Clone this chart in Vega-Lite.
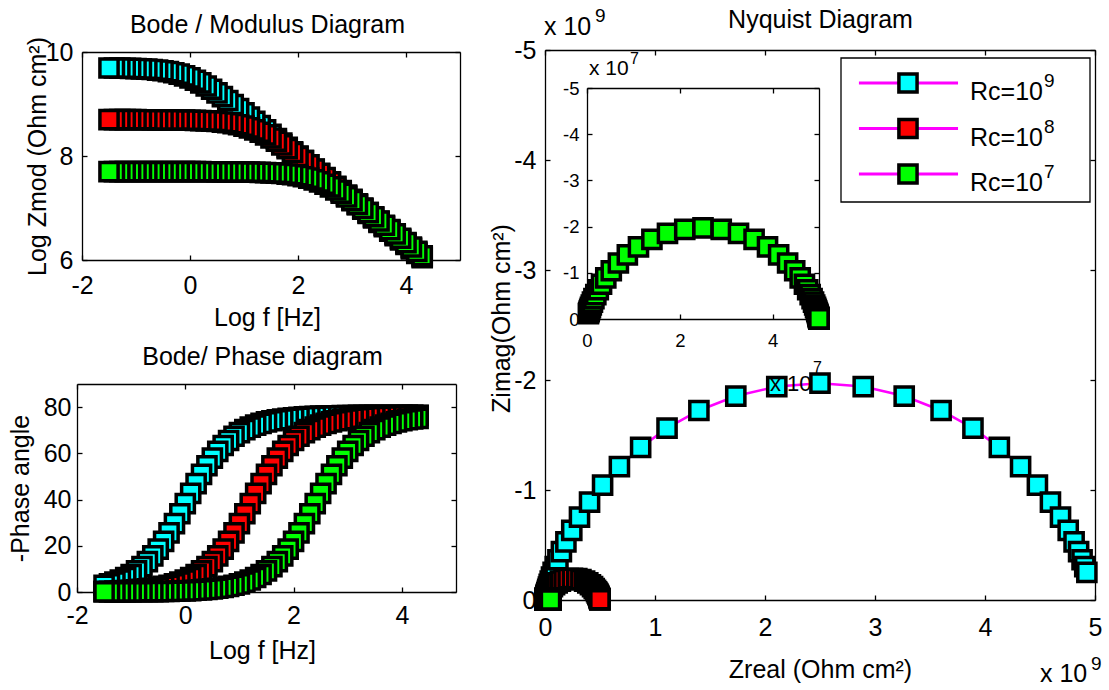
{
  "$schema": "https://vega.github.io/schema/vega-lite/v6.json",
  "width": 1109,
  "height": 690,
  "autosize": {"type": "none"},
  "padding": 0,
  "background": "white",
  "config": {
    "view": {"stroke": null},
    "font": "Liberation Sans",
    "text": {"font": "Liberation Sans", "color": "black"},
    "axis": {
      "domainColor": "black", "domainWidth": 1.3,
      "tickColor": "black", "tickWidth": 1.3, "tickSize": -5,
      "labelFont": "Liberation Sans", "labelFontSize": 25, "labelColor": "black",
      "titleFont": "Liberation Sans", "titleFontSize": 25, "titleFontWeight": "normal", "titleColor": "black",
      "grid": false, "labelOverlap": false, "labelFlush": false, "labelBound": false
    }
  },
  "datasets": {
    "legend": [
      {"series": "Rc=1e9", "base": "Rc=10", "exp": "9"},
      {"series": "Rc=1e8", "base": "Rc=10", "exp": "8"},
      {"series": "Rc=1e7", "base": "Rc=10", "exp": "7"}
    ],
    "eis": [
      {"series":"Rc=1e9","logf":4.3,"logz":6.044,"phase":76.49,"zreal":2.2e5,"zimag":-1.1e6},
      {"series":"Rc=1e9","logf":4.2,"logz":6.129,"phase":76.48,"zreal":2.7e5,"zimag":-1.35e6},
      {"series":"Rc=1e9","logf":4.1,"logz":6.214,"phase":76.48,"zreal":3.3e5,"zimag":-1.6e6},
      {"series":"Rc=1e9","logf":4.0,"logz":6.299,"phase":76.48,"zreal":4.0e5,"zimag":-2.0e6},
      {"series":"Rc=1e9","logf":3.9,"logz":6.384,"phase":76.47,"zreal":5.0e5,"zimag":-2.4e6},
      {"series":"Rc=1e9","logf":3.8,"logz":6.469,"phase":76.47,"zreal":6.0e5,"zimag":-2.9e6},
      {"series":"Rc=1e9","logf":3.7,"logz":6.554,"phase":76.46,"zreal":7.0e5,"zimag":-3.55e6},
      {"series":"Rc=1e9","logf":3.6,"logz":6.639,"phase":76.45,"zreal":9.0e5,"zimag":-4.35e6},
      {"series":"Rc=1e9","logf":3.5,"logz":6.724,"phase":76.44,"zreal":1.1e6,"zimag":-5.3e6},
      {"series":"Rc=1e9","logf":3.4,"logz":6.809,"phase":76.43,"zreal":1.3e6,"zimag":-6.4e6},
      {"series":"Rc=1e9","logf":3.3,"logz":6.894,"phase":76.41,"zreal":1.6e6,"zimag":-7.8e6},
      {"series":"Rc=1e9","logf":3.2,"logz":6.979,"phase":76.39,"zreal":2.0e6,"zimag":-9.5e6},
      {"series":"Rc=1e9","logf":3.1,"logz":7.064,"phase":76.37,"zreal":2.5e6,"zimag":-1.15e7},
      {"series":"Rc=1e9","logf":3.0,"logz":7.149,"phase":76.34,"zreal":3.5e6,"zimag":-1.35e7},
      {"series":"Rc=1e9","logf":2.9,"logz":7.234,"phase":76.30,"zreal":4.0e6,"zimag":-1.65e7},
      {"series":"Rc=1e9","logf":2.8,"logz":7.319,"phase":76.26,"zreal":5.0e6,"zimag":-2.0e7},
      {"series":"Rc=1e9","logf":2.7,"logz":7.404,"phase":76.21,"zreal":6.0e6,"zimag":-2.45e7},
      {"series":"Rc=1e9","logf":2.6,"logz":7.488,"phase":76.15,"zreal":7.5e6,"zimag":-3.0e7},
      {"series":"Rc=1e9","logf":2.5,"logz":7.573,"phase":76.08,"zreal":9.0e6,"zimag":-3.65e7},
      {"series":"Rc=1e9","logf":2.4,"logz":7.658,"phase":75.99,"zreal":1.1e7,"zimag":-4.4e7},
      {"series":"Rc=1e9","logf":2.3,"logz":7.743,"phase":75.89,"zreal":1.35e7,"zimag":-5.35e7},
      {"series":"Rc=1e9","logf":2.2,"logz":7.828,"phase":75.75,"zreal":1.65e7,"zimag":-6.5e7},
      {"series":"Rc=1e9","logf":2.1,"logz":7.912,"phase":75.59,"zreal":2.05e7,"zimag":-7.9e7},
      {"series":"Rc=1e9","logf":2.0,"logz":7.997,"phase":75.40,"zreal":2.5e7,"zimag":-9.6e7},
      {"series":"Rc=1e9","logf":1.9,"logz":8.081,"phase":75.16,"zreal":3.1e7,"zimag":-1.165e8},
      {"series":"Rc=1e9","logf":1.8,"logz":8.166,"phase":74.87,"zreal":3.8e7,"zimag":-1.415e8},
      {"series":"Rc=1e9","logf":1.7,"logz":8.250,"phase":74.52,"zreal":4.75e7,"zimag":-1.715e8},
      {"series":"Rc=1e9","logf":1.6,"logz":8.334,"phase":74.09,"zreal":5.9e7,"zimag":-2.08e8},
      {"series":"Rc=1e9","logf":1.5,"logz":8.418,"phase":73.58,"zreal":7.4e7,"zimag":-2.51e8},
      {"series":"Rc=1e9","logf":1.4,"logz":8.502,"phase":72.96,"zreal":9.3e7,"zimag":-3.035e8},
      {"series":"Rc=1e9","logf":1.3,"logz":8.585,"phase":72.22,"zreal":1.175e8,"zimag":-3.66e8},
      {"series":"Rc=1e9","logf":1.2,"logz":8.668,"phase":71.31,"zreal":1.49e8,"zimag":-4.405e8},
      {"series":"Rc=1e9","logf":1.1,"logz":8.750,"phase":70.23,"zreal":1.9e8,"zimag":-5.285e8},
      {"series":"Rc=1e9","logf":1.0,"logz":8.831,"phase":68.93,"zreal":2.435e8,"zimag":-6.325e8},
      {"series":"Rc=1e9","logf":0.9,"logz":8.911,"phase":67.38,"zreal":3.135e8,"zimag":-7.53e8},
      {"series":"Rc=1e9","logf":0.8,"logz":8.990,"phase":65.54,"zreal":4.05e8,"zimag":-8.9e8},
      {"series":"Rc=1e9","logf":0.7,"logz":9.068,"phase":63.38,"zreal":5.235e8,"zimag":-1.044e9},
      {"series":"Rc=1e9","logf":0.6,"logz":9.142,"phase":60.85,"zreal":6.765e8,"zimag":-1.212e9},
      {"series":"Rc=1e9","logf":0.5,"logz":9.214,"phase":57.94,"zreal":8.695e8,"zimag":-1.3875e9},
      {"series":"Rc=1e9","logf":0.4,"logz":9.283,"phase":54.62,"zreal":1.1095e9,"zimag":-1.5625e9},
      {"series":"Rc=1e9","logf":0.3,"logz":9.346,"phase":50.93,"zreal":1.399e9,"zimag":-1.723e9},
      {"series":"Rc=1e9","logf":0.2,"logz":9.405,"phase":46.92,"zreal":1.7345e9,"zimag":-1.854e9},
      {"series":"Rc=1e9","logf":0.1,"logz":9.457,"phase":42.65,"zreal":2.107e9,"zimag":-1.9405e9},
      {"series":"Rc=1e9","logf":0.0,"logz":9.503,"phase":38.25,"zreal":2.5e9,"zimag":-1.971e9},
      {"series":"Rc=1e9","logf":-0.1,"logz":9.542,"phase":33.85,"zreal":2.893e9,"zimag":-1.9405e9},
      {"series":"Rc=1e9","logf":-0.2,"logz":9.575,"phase":29.59,"zreal":3.2655e9,"zimag":-1.854e9},
      {"series":"Rc=1e9","logf":-0.3,"logz":9.601,"phase":25.57,"zreal":3.601e9,"zimag":-1.723e9},
      {"series":"Rc=1e9","logf":-0.4,"logz":9.623,"phase":21.88,"zreal":3.8905e9,"zimag":-1.5625e9},
      {"series":"Rc=1e9","logf":-0.5,"logz":9.639,"phase":18.57,"zreal":4.1305e9,"zimag":-1.3875e9},
      {"series":"Rc=1e9","logf":-0.6,"logz":9.652,"phase":15.66,"zreal":4.3235e9,"zimag":-1.212e9},
      {"series":"Rc=1e9","logf":-0.7,"logz":9.663,"phase":13.13,"zreal":4.4765e9,"zimag":-1.044e9},
      {"series":"Rc=1e9","logf":-0.8,"logz":9.670,"phase":10.96,"zreal":4.595e9,"zimag":-8.9e8},
      {"series":"Rc=1e9","logf":-0.9,"logz":9.676,"phase":9.13,"zreal":4.6865e9,"zimag":-7.53e8},
      {"series":"Rc=1e9","logf":-1.0,"logz":9.681,"phase":7.58,"zreal":4.7565e9,"zimag":-6.325e8},
      {"series":"Rc=1e9","logf":-1.1,"logz":9.685,"phase":6.27,"zreal":4.81e9,"zimag":-5.285e8},
      {"series":"Rc=1e9","logf":-1.2,"logz":9.688,"phase":5.19,"zreal":4.851e9,"zimag":-4.405e8},
      {"series":"Rc=1e9","logf":-1.3,"logz":9.690,"phase":4.29,"zreal":4.8825e9,"zimag":-3.66e8},
      {"series":"Rc=1e9","logf":-1.4,"logz":9.692,"phase":3.54,"zreal":4.907e9,"zimag":-3.035e8},
      {"series":"Rc=1e9","logf":-1.5,"logz":9.693,"phase":2.92,"zreal":4.926e9,"zimag":-2.51e8},

      {"series":"Rc=1e8","logf":4.3,"logz":6.064,"phase":76.37,"zreal":2.5e5,"zimag":-1.15e6},
      {"series":"Rc=1e8","logf":4.2,"logz":6.149,"phase":76.34,"zreal":3.5e5,"zimag":-1.35e6},
      {"series":"Rc=1e8","logf":4.1,"logz":6.234,"phase":76.30,"zreal":4.0e5,"zimag":-1.65e6},
      {"series":"Rc=1e8","logf":4.0,"logz":6.319,"phase":76.26,"zreal":5.0e5,"zimag":-2.0e6},
      {"series":"Rc=1e8","logf":3.9,"logz":6.404,"phase":76.21,"zreal":6.0e5,"zimag":-2.45e6},
      {"series":"Rc=1e8","logf":3.8,"logz":6.488,"phase":76.15,"zreal":7.5e5,"zimag":-3.0e6},
      {"series":"Rc=1e8","logf":3.7,"logz":6.573,"phase":76.08,"zreal":9.0e5,"zimag":-3.65e6},
      {"series":"Rc=1e8","logf":3.6,"logz":6.658,"phase":75.99,"zreal":1.1e6,"zimag":-4.4e6},
      {"series":"Rc=1e8","logf":3.5,"logz":6.743,"phase":75.89,"zreal":1.35e6,"zimag":-5.35e6},
      {"series":"Rc=1e8","logf":3.4,"logz":6.828,"phase":75.75,"zreal":1.65e6,"zimag":-6.5e6},
      {"series":"Rc=1e8","logf":3.3,"logz":6.912,"phase":75.59,"zreal":2.05e6,"zimag":-7.9e6},
      {"series":"Rc=1e8","logf":3.2,"logz":6.997,"phase":75.40,"zreal":2.5e6,"zimag":-9.6e6},
      {"series":"Rc=1e8","logf":3.1,"logz":7.081,"phase":75.16,"zreal":3.1e6,"zimag":-1.165e7},
      {"series":"Rc=1e8","logf":3.0,"logz":7.166,"phase":74.87,"zreal":3.8e6,"zimag":-1.415e7},
      {"series":"Rc=1e8","logf":2.9,"logz":7.250,"phase":74.52,"zreal":4.75e6,"zimag":-1.715e7},
      {"series":"Rc=1e8","logf":2.8,"logz":7.334,"phase":74.09,"zreal":5.9e6,"zimag":-2.08e7},
      {"series":"Rc=1e8","logf":2.7,"logz":7.418,"phase":73.58,"zreal":7.4e6,"zimag":-2.51e7},
      {"series":"Rc=1e8","logf":2.6,"logz":7.502,"phase":72.96,"zreal":9.3e6,"zimag":-3.035e7},
      {"series":"Rc=1e8","logf":2.5,"logz":7.585,"phase":72.22,"zreal":1.175e7,"zimag":-3.66e7},
      {"series":"Rc=1e8","logf":2.4,"logz":7.668,"phase":71.31,"zreal":1.49e7,"zimag":-4.405e7},
      {"series":"Rc=1e8","logf":2.3,"logz":7.750,"phase":70.23,"zreal":1.9e7,"zimag":-5.285e7},
      {"series":"Rc=1e8","logf":2.2,"logz":7.831,"phase":68.93,"zreal":2.435e7,"zimag":-6.325e7},
      {"series":"Rc=1e8","logf":2.1,"logz":7.911,"phase":67.38,"zreal":3.135e7,"zimag":-7.53e7},
      {"series":"Rc=1e8","logf":2.0,"logz":7.990,"phase":65.54,"zreal":4.05e7,"zimag":-8.9e7},
      {"series":"Rc=1e8","logf":1.9,"logz":8.068,"phase":63.38,"zreal":5.235e7,"zimag":-1.044e8},
      {"series":"Rc=1e8","logf":1.8,"logz":8.142,"phase":60.85,"zreal":6.765e7,"zimag":-1.212e8},
      {"series":"Rc=1e8","logf":1.7,"logz":8.214,"phase":57.94,"zreal":8.695e7,"zimag":-1.3875e8},
      {"series":"Rc=1e8","logf":1.6,"logz":8.283,"phase":54.62,"zreal":1.1095e8,"zimag":-1.5625e8},
      {"series":"Rc=1e8","logf":1.5,"logz":8.346,"phase":50.93,"zreal":1.399e8,"zimag":-1.723e8},
      {"series":"Rc=1e8","logf":1.4,"logz":8.405,"phase":46.92,"zreal":1.7345e8,"zimag":-1.854e8},
      {"series":"Rc=1e8","logf":1.3,"logz":8.457,"phase":42.65,"zreal":2.107e8,"zimag":-1.9405e8},
      {"series":"Rc=1e8","logf":1.2,"logz":8.503,"phase":38.25,"zreal":2.5e8,"zimag":-1.971e8},
      {"series":"Rc=1e8","logf":1.1,"logz":8.542,"phase":33.85,"zreal":2.893e8,"zimag":-1.9405e8},
      {"series":"Rc=1e8","logf":1.0,"logz":8.575,"phase":29.59,"zreal":3.2655e8,"zimag":-1.854e8},
      {"series":"Rc=1e8","logf":0.9,"logz":8.601,"phase":25.57,"zreal":3.601e8,"zimag":-1.723e8},
      {"series":"Rc=1e8","logf":0.8,"logz":8.623,"phase":21.88,"zreal":3.8905e8,"zimag":-1.5625e8},
      {"series":"Rc=1e8","logf":0.7,"logz":8.639,"phase":18.57,"zreal":4.1305e8,"zimag":-1.3875e8},
      {"series":"Rc=1e8","logf":0.6,"logz":8.652,"phase":15.66,"zreal":4.3235e8,"zimag":-1.212e8},
      {"series":"Rc=1e8","logf":0.5,"logz":8.663,"phase":13.13,"zreal":4.4765e8,"zimag":-1.044e8},
      {"series":"Rc=1e8","logf":0.4,"logz":8.670,"phase":10.96,"zreal":4.595e8,"zimag":-8.9e7},
      {"series":"Rc=1e8","logf":0.3,"logz":8.676,"phase":9.13,"zreal":4.6865e8,"zimag":-7.53e7},
      {"series":"Rc=1e8","logf":0.2,"logz":8.681,"phase":7.58,"zreal":4.7565e8,"zimag":-6.325e7},
      {"series":"Rc=1e8","logf":0.1,"logz":8.685,"phase":6.27,"zreal":4.81e8,"zimag":-5.285e7},
      {"series":"Rc=1e8","logf":0.0,"logz":8.688,"phase":5.19,"zreal":4.851e8,"zimag":-4.405e7},
      {"series":"Rc=1e8","logf":-0.1,"logz":8.690,"phase":4.29,"zreal":4.8825e8,"zimag":-3.66e7},
      {"series":"Rc=1e8","logf":-0.2,"logz":8.692,"phase":3.54,"zreal":4.907e8,"zimag":-3.035e7},
      {"series":"Rc=1e8","logf":-0.3,"logz":8.693,"phase":2.92,"zreal":4.926e8,"zimag":-2.51e7},
      {"series":"Rc=1e8","logf":-0.4,"logz":8.694,"phase":2.41,"zreal":4.941e8,"zimag":-2.08e7},
      {"series":"Rc=1e8","logf":-0.5,"logz":8.695,"phase":1.98,"zreal":4.9525e8,"zimag":-1.715e7},
      {"series":"Rc=1e8","logf":-0.6,"logz":8.696,"phase":1.63,"zreal":4.962e8,"zimag":-1.415e7},
      {"series":"Rc=1e8","logf":-0.7,"logz":8.696,"phase":1.34,"zreal":4.969e8,"zimag":-1.165e7},
      {"series":"Rc=1e8","logf":-0.8,"logz":8.697,"phase":1.11,"zreal":4.975e8,"zimag":-9.6e6},
      {"series":"Rc=1e8","logf":-0.9,"logz":8.697,"phase":0.91,"zreal":4.9795e8,"zimag":-7.9e6},
      {"series":"Rc=1e8","logf":-1.0,"logz":8.698,"phase":0.75,"zreal":4.9835e8,"zimag":-6.5e6},
      {"series":"Rc=1e8","logf":-1.1,"logz":8.698,"phase":0.62,"zreal":4.9865e8,"zimag":-5.35e6},
      {"series":"Rc=1e8","logf":-1.2,"logz":8.698,"phase":0.51,"zreal":4.989e8,"zimag":-4.4e6},
      {"series":"Rc=1e8","logf":-1.3,"logz":8.698,"phase":0.42,"zreal":4.991e8,"zimag":-3.65e6},
      {"series":"Rc=1e8","logf":-1.4,"logz":8.698,"phase":0.34,"zreal":4.9925e8,"zimag":-3.0e6},
      {"series":"Rc=1e8","logf":-1.5,"logz":8.699,"phase":0.28,"zreal":4.994e8,"zimag":-2.45e6},

      {"series":"Rc=1e7","logf":4.3,"logz":6.081,"phase":75.16,"zreal":3.1e5,"zimag":-1.165e6},
      {"series":"Rc=1e7","logf":4.2,"logz":6.166,"phase":74.87,"zreal":3.8e5,"zimag":-1.415e6},
      {"series":"Rc=1e7","logf":4.1,"logz":6.250,"phase":74.52,"zreal":4.75e5,"zimag":-1.715e6},
      {"series":"Rc=1e7","logf":4.0,"logz":6.334,"phase":74.09,"zreal":5.9e5,"zimag":-2.08e6},
      {"series":"Rc=1e7","logf":3.9,"logz":6.418,"phase":73.58,"zreal":7.4e5,"zimag":-2.51e6},
      {"series":"Rc=1e7","logf":3.8,"logz":6.502,"phase":72.96,"zreal":9.3e5,"zimag":-3.035e6},
      {"series":"Rc=1e7","logf":3.7,"logz":6.585,"phase":72.22,"zreal":1.175e6,"zimag":-3.66e6},
      {"series":"Rc=1e7","logf":3.6,"logz":6.668,"phase":71.31,"zreal":1.49e6,"zimag":-4.405e6},
      {"series":"Rc=1e7","logf":3.5,"logz":6.750,"phase":70.23,"zreal":1.9e6,"zimag":-5.285e6},
      {"series":"Rc=1e7","logf":3.4,"logz":6.831,"phase":68.93,"zreal":2.435e6,"zimag":-6.325e6},
      {"series":"Rc=1e7","logf":3.3,"logz":6.911,"phase":67.38,"zreal":3.135e6,"zimag":-7.53e6},
      {"series":"Rc=1e7","logf":3.2,"logz":6.990,"phase":65.54,"zreal":4.05e6,"zimag":-8.9e6},
      {"series":"Rc=1e7","logf":3.1,"logz":7.068,"phase":63.38,"zreal":5.235e6,"zimag":-1.044e7},
      {"series":"Rc=1e7","logf":3.0,"logz":7.142,"phase":60.85,"zreal":6.765e6,"zimag":-1.212e7},
      {"series":"Rc=1e7","logf":2.9,"logz":7.214,"phase":57.94,"zreal":8.695e6,"zimag":-1.3875e7},
      {"series":"Rc=1e7","logf":2.8,"logz":7.283,"phase":54.62,"zreal":1.1095e7,"zimag":-1.5625e7},
      {"series":"Rc=1e7","logf":2.7,"logz":7.346,"phase":50.93,"zreal":1.399e7,"zimag":-1.723e7},
      {"series":"Rc=1e7","logf":2.6,"logz":7.405,"phase":46.92,"zreal":1.7345e7,"zimag":-1.854e7},
      {"series":"Rc=1e7","logf":2.5,"logz":7.457,"phase":42.65,"zreal":2.107e7,"zimag":-1.9405e7},
      {"series":"Rc=1e7","logf":2.4,"logz":7.503,"phase":38.25,"zreal":2.5e7,"zimag":-1.971e7},
      {"series":"Rc=1e7","logf":2.3,"logz":7.542,"phase":33.85,"zreal":2.893e7,"zimag":-1.9405e7},
      {"series":"Rc=1e7","logf":2.2,"logz":7.575,"phase":29.59,"zreal":3.2655e7,"zimag":-1.854e7},
      {"series":"Rc=1e7","logf":2.1,"logz":7.601,"phase":25.57,"zreal":3.601e7,"zimag":-1.723e7},
      {"series":"Rc=1e7","logf":2.0,"logz":7.623,"phase":21.88,"zreal":3.8905e7,"zimag":-1.5625e7},
      {"series":"Rc=1e7","logf":1.9,"logz":7.639,"phase":18.57,"zreal":4.1305e7,"zimag":-1.3875e7},
      {"series":"Rc=1e7","logf":1.8,"logz":7.652,"phase":15.66,"zreal":4.3235e7,"zimag":-1.212e7},
      {"series":"Rc=1e7","logf":1.7,"logz":7.663,"phase":13.13,"zreal":4.4765e7,"zimag":-1.044e7},
      {"series":"Rc=1e7","logf":1.6,"logz":7.670,"phase":10.96,"zreal":4.595e7,"zimag":-8.9e6},
      {"series":"Rc=1e7","logf":1.5,"logz":7.676,"phase":9.13,"zreal":4.6865e7,"zimag":-7.53e6},
      {"series":"Rc=1e7","logf":1.4,"logz":7.681,"phase":7.58,"zreal":4.7565e7,"zimag":-6.325e6},
      {"series":"Rc=1e7","logf":1.3,"logz":7.685,"phase":6.27,"zreal":4.81e7,"zimag":-5.285e6},
      {"series":"Rc=1e7","logf":1.2,"logz":7.688,"phase":5.19,"zreal":4.851e7,"zimag":-4.405e6},
      {"series":"Rc=1e7","logf":1.1,"logz":7.690,"phase":4.29,"zreal":4.8825e7,"zimag":-3.66e6},
      {"series":"Rc=1e7","logf":1.0,"logz":7.692,"phase":3.54,"zreal":4.907e7,"zimag":-3.035e6},
      {"series":"Rc=1e7","logf":0.9,"logz":7.693,"phase":2.92,"zreal":4.926e7,"zimag":-2.51e6},
      {"series":"Rc=1e7","logf":0.8,"logz":7.694,"phase":2.41,"zreal":4.941e7,"zimag":-2.08e6},
      {"series":"Rc=1e7","logf":0.7,"logz":7.695,"phase":1.98,"zreal":4.9525e7,"zimag":-1.715e6},
      {"series":"Rc=1e7","logf":0.6,"logz":7.696,"phase":1.63,"zreal":4.962e7,"zimag":-1.415e6},
      {"series":"Rc=1e7","logf":0.5,"logz":7.696,"phase":1.34,"zreal":4.969e7,"zimag":-1.165e6},
      {"series":"Rc=1e7","logf":0.4,"logz":7.697,"phase":1.11,"zreal":4.975e7,"zimag":-9.6e5},
      {"series":"Rc=1e7","logf":0.3,"logz":7.697,"phase":0.91,"zreal":4.9795e7,"zimag":-7.9e5},
      {"series":"Rc=1e7","logf":0.2,"logz":7.698,"phase":0.75,"zreal":4.9835e7,"zimag":-6.5e5},
      {"series":"Rc=1e7","logf":0.1,"logz":7.698,"phase":0.62,"zreal":4.9865e7,"zimag":-5.35e5},
      {"series":"Rc=1e7","logf":0.0,"logz":7.698,"phase":0.51,"zreal":4.989e7,"zimag":-4.4e5},
      {"series":"Rc=1e7","logf":-0.1,"logz":7.698,"phase":0.42,"zreal":4.991e7,"zimag":-3.65e5},
      {"series":"Rc=1e7","logf":-0.2,"logz":7.698,"phase":0.34,"zreal":4.9925e7,"zimag":-3.0e5},
      {"series":"Rc=1e7","logf":-0.3,"logz":7.699,"phase":0.28,"zreal":4.994e7,"zimag":-2.45e5},
      {"series":"Rc=1e7","logf":-0.4,"logz":7.699,"phase":0.23,"zreal":4.995e7,"zimag":-2.0e5},
      {"series":"Rc=1e7","logf":-0.5,"logz":7.699,"phase":0.19,"zreal":4.996e7,"zimag":-1.65e5},
      {"series":"Rc=1e7","logf":-0.6,"logz":7.699,"phase":0.16,"zreal":4.9965e7,"zimag":-1.35e5},
      {"series":"Rc=1e7","logf":-0.7,"logz":7.699,"phase":0.13,"zreal":4.9975e7,"zimag":-1.15e5},
      {"series":"Rc=1e7","logf":-0.8,"logz":7.699,"phase":0.11,"zreal":4.998e7,"zimag":-9.5e4},
      {"series":"Rc=1e7","logf":-0.9,"logz":7.699,"phase":0.09,"zreal":4.998e7,"zimag":-7.5e4},
      {"series":"Rc=1e7","logf":-1.0,"logz":7.699,"phase":0.07,"zreal":4.9985e7,"zimag":-6.5e4},
      {"series":"Rc=1e7","logf":-1.1,"logz":7.699,"phase":0.06,"zreal":4.999e7,"zimag":-5.0e4},
      {"series":"Rc=1e7","logf":-1.2,"logz":7.699,"phase":0.05,"zreal":4.999e7,"zimag":-4.0e4},
      {"series":"Rc=1e7","logf":-1.3,"logz":7.699,"phase":0.04,"zreal":4.999e7,"zimag":-3.5e4},
      {"series":"Rc=1e7","logf":-1.4,"logz":7.699,"phase":0.03,"zreal":4.9995e7,"zimag":-3.0e4},
      {"series":"Rc=1e7","logf":-1.5,"logz":7.699,"phase":0.03,"zreal":4.9995e7,"zimag":-2.5e4}
    ]
  },
  "layer": [
    {
      "data": {"name": "eis"},
      "mark": {"type": "line", "stroke": "#ff00ff", "strokeWidth": 2.5},
      "encoding": {
        "x": {"field": "logf", "type": "quantitative",
              "scale": {"domain": [-2, 5], "range": [82, 460], "nice": false, "zero": false},
              "axis": {"orient": "top", "offset": -52, "values": [-2, 0, 2, 4], "labels": false,
                       "title": "Bode / Modulus Diagram", "titleX": 267, "titleY": -20, "titleAlign": "center", "titleBaseline": "alphabetic"}},
        "y": {"field": "logz", "type": "quantitative",
              "scale": {"domain": [6, 10], "range": [260, 52], "nice": false, "zero": false},
              "axis": {"orient": "right", "offset": -649, "values": [6, 8, 10], "labels": false, "title": null}},
        "detail": {"field": "series", "type": "nominal"}
      }
    },
    {
      "data": {"name": "eis"},
      "mark": {"type": "point", "shape": "square", "filled": true, "size": 330, "stroke": "black", "strokeWidth": 3.5, "strokeJoin": "miter", "opacity": 1},
      "encoding": {
        "x": {"field": "logf", "type": "quantitative",
              "scale": {"domain": [-2, 5], "range": [82, 460], "nice": false, "zero": false},
              "axis": {"orient": "bottom", "offset": -430, "values": [-2, 0, 2, 4], "labelPadding": 18,
                       "labelExpr": "datum.value < 0 ? '-' + (-datum.value) : '' + datum.value",
                       "title": "Log f [Hz]", "titleX": 267, "titleY": 65, "titleAlign": "center", "titleBaseline": "alphabetic"}},
        "y": {"field": "logz", "type": "quantitative",
              "scale": {"domain": [6, 10], "range": [260, 52], "nice": false, "zero": false},
              "axis": {"orient": "left", "offset": -82, "values": [6, 8, 10], "labelPadding": 14,
                       "title": "Log Zmod (Ohm cm²)", "titleAngle": 270, "titleX": -37, "titleY": 156, "titleAlign": "center", "titleBaseline": "alphabetic"}},
        "fill": {"field": "series", "type": "nominal",
                 "scale": {"domain": ["Rc=1e9", "Rc=1e8", "Rc=1e7"], "range": ["#00ffff", "#ff0000", "#00ff00"]},
                 "legend": null}
      }
    },
    {
      "data": {"name": "eis"},
      "mark": {"type": "line", "stroke": "#ff00ff", "strokeWidth": 2.5},
      "encoding": {
        "x": {"field": "logf", "type": "quantitative",
              "scale": {"domain": [-2, 5], "range": [77, 456], "nice": false, "zero": false},
              "axis": {"orient": "top", "offset": -384, "values": [-2, 0, 2, 4], "labels": false,
                       "title": "Bode/ Phase diagram", "titleX": 262, "titleY": -20, "titleAlign": "center", "titleBaseline": "alphabetic"}},
        "y": {"field": "phase", "type": "quantitative",
              "scale": {"domain": [0, 90], "range": [592, 384], "nice": false, "zero": false},
              "axis": {"orient": "right", "offset": -653, "values": [0, 20, 40, 60, 80], "labels": false, "title": null}},
        "detail": {"field": "series", "type": "nominal"}
      }
    },
    {
      "data": {"name": "eis"},
      "mark": {"type": "point", "shape": "square", "filled": true, "size": 330, "stroke": "black", "strokeWidth": 3.5, "strokeJoin": "miter", "opacity": 1},
      "encoding": {
        "x": {"field": "logf", "type": "quantitative",
              "scale": {"domain": [-2, 5], "range": [77, 456], "nice": false, "zero": false},
              "axis": {"orient": "bottom", "offset": -98, "values": [-2, 0, 2, 4], "labelPadding": 16,
                       "labelExpr": "datum.value < 0 ? '-' + (-datum.value) : '' + datum.value",
                       "title": "Log f [Hz]", "titleX": 262, "titleY": 66, "titleAlign": "center", "titleBaseline": "alphabetic"}},
        "y": {"field": "phase", "type": "quantitative",
              "scale": {"domain": [0, 90], "range": [592, 384], "nice": false, "zero": false},
              "axis": {"orient": "left", "offset": -77, "values": [0, 20, 40, 60, 80], "labelPadding": 11,
                       "title": "-Phase angle", "titleAngle": 270, "titleX": -49, "titleY": 488, "titleAlign": "center", "titleBaseline": "alphabetic"}},
        "fill": {"field": "series", "type": "nominal",
                 "scale": {"domain": ["Rc=1e9", "Rc=1e8", "Rc=1e7"], "range": ["#00ffff", "#ff0000", "#00ff00"]},
                 "legend": null}
      }
    },
    {
      "data": {"name": "eis"},
      "mark": {"type": "line", "stroke": "#ff00ff", "strokeWidth": 2.5},
      "encoding": {
        "x": {"field": "zreal", "type": "quantitative",
              "scale": {"domain": [0, 5000000000], "range": [545, 1095], "nice": false, "zero": false},
              "axis": {"orient": "top", "offset": -50, "values": [0, 1000000000, 2000000000, 3000000000, 4000000000, 5000000000], "labels": false,
                       "title": "Nyquist Diagram", "titleX": 820, "titleY": -23, "titleAlign": "center", "titleBaseline": "alphabetic"}},
        "y": {"field": "zimag", "type": "quantitative",
              "scale": {"domain": [-5000000000, 0], "range": [50, 600], "nice": false, "zero": false},
              "axis": {"orient": "right", "offset": -14, "values": [-5000000000, -4000000000, -3000000000, -2000000000, -1000000000, 0], "labels": false, "title": null}},
        "detail": {"field": "series", "type": "nominal"}
      }
    },
    {
      "data": {"name": "eis"},
      "mark": {"type": "point", "shape": "square", "filled": true, "size": 330, "stroke": "black", "strokeWidth": 3.5, "strokeJoin": "miter", "opacity": 1},
      "encoding": {
        "x": {"field": "zreal", "type": "quantitative",
              "scale": {"domain": [0, 5000000000], "range": [545, 1095], "nice": false, "zero": false},
              "axis": {"orient": "bottom", "offset": -90, "values": [0, 1000000000, 2000000000, 3000000000, 4000000000, 5000000000], "labelPadding": 20,
                       "labelExpr": "'' + datum.value / 1000000000",
                       "title": "Zreal (Ohm cm²)", "titleX": 820, "titleY": 77, "titleAlign": "center", "titleBaseline": "alphabetic"}},
        "y": {"field": "zimag", "type": "quantitative",
              "scale": {"domain": [-5000000000, 0], "range": [50, 600], "nice": false, "zero": false},
              "axis": {"orient": "left", "offset": -545, "values": [-5000000000, -4000000000, -3000000000, -2000000000, -1000000000, 0], "labelPadding": 14,
                       "labelExpr": "datum.value < 0 ? '-' + (-datum.value / 1000000000) : '0'",
                       "title": "Zimag(Ohm cm²)", "titleAngle": 270, "titleX": -36, "titleY": 318, "titleAlign": "center", "titleBaseline": "alphabetic"}},
        "fill": {"field": "series", "type": "nominal",
                 "scale": {"domain": ["Rc=1e9", "Rc=1e8", "Rc=1e7"], "range": ["#00ffff", "#ff0000", "#00ff00"]},
                 "legend": null}
      }
    },
    {
      "data": {"name": "eis"},
      "transform": [{"filter": {"field": "series", "equal": "Rc=1e7"}}],
      "mark": {"type": "line", "stroke": "#ff00ff", "strokeWidth": 2.5},
      "encoding": {
        "x": {"field": "zreal", "type": "quantitative",
              "scale": {"domain": [0, 50000000], "range": [587, 819], "nice": false, "zero": false},
              "axis": {"orient": "top", "offset": -88, "values": [0, 20000000, 40000000], "labels": false, "title": null}},
        "y": {"field": "zimag", "type": "quantitative",
              "scale": {"domain": [-50000000, 0], "range": [88, 319], "nice": false, "zero": false},
              "axis": {"orient": "right", "offset": -290, "values": [-50000000, -40000000, -30000000, -20000000, -10000000, 0], "labels": false, "title": null}}
      }
    },
    {
      "data": {"name": "eis"},
      "transform": [{"filter": {"field": "series", "equal": "Rc=1e7"}}],
      "mark": {"type": "point", "shape": "square", "filled": true, "size": 330, "stroke": "black", "strokeWidth": 3.5, "strokeJoin": "miter", "opacity": 1},
      "encoding": {
        "x": {"field": "zreal", "type": "quantitative",
              "scale": {"domain": [0, 50000000], "range": [587, 819], "nice": false, "zero": false},
              "axis": {"orient": "bottom", "offset": -371, "values": [0, 20000000, 40000000], "labelPadding": 17, "labelFontSize": 18.5,
                       "labelExpr": "'' + datum.value / 10000000", "title": null}},
        "y": {"field": "zimag", "type": "quantitative",
              "scale": {"domain": [-50000000, 0], "range": [88, 319], "nice": false, "zero": false},
              "axis": {"orient": "left", "offset": -587, "values": [-50000000, -40000000, -30000000, -20000000, -10000000, 0], "labelPadding": 13, "labelFontSize": 18.5,
                       "labelExpr": "datum.value < 0 ? '-' + (-datum.value / 10000000) : '0'", "title": null}},
        "fill": {"field": "series", "type": "nominal",
                 "scale": {"domain": ["Rc=1e9", "Rc=1e8", "Rc=1e7"], "range": ["#00ffff", "#ff0000", "#00ff00"]},
                 "legend": null}
      }
    },
    {
      "data": {"values": [{}]},
      "mark": {"type": "rect", "fill": "white", "stroke": "black", "strokeWidth": 1.3},
      "encoding": {
        "x": {"datum": 0, "type": "quantitative", "scale": {"domain": [0, 1], "range": [841, 1090], "nice": false, "zero": false}, "axis": null},
        "x2": {"datum": 1},
        "y": {"datum": 0, "type": "quantitative", "scale": {"domain": [0, 1], "range": [58, 202], "nice": false, "zero": false}, "axis": null},
        "y2": {"datum": 1}
      }
    },
    {
      "data": {"name": "legend"},
      "mark": {"type": "rule", "stroke": "#ff00ff", "strokeWidth": 3},
      "encoding": {
        "x": {"datum": 0.072, "type": "quantitative", "scale": {"domain": [0, 1], "range": [841, 1090], "nice": false, "zero": false}, "axis": null},
        "x2": {"datum": 0.47},
        "y": {"field": "series", "type": "nominal", "sort": null,
              "scale": {"type": "point", "domain": ["Rc=1e9", "Rc=1e8", "Rc=1e7"], "range": [83, 174], "padding": 0}, "axis": null}
      }
    },
    {
      "data": {"name": "legend"},
      "mark": {"type": "point", "shape": "square", "filled": true, "size": 330, "stroke": "black", "strokeWidth": 3.5, "strokeJoin": "miter", "opacity": 1},
      "encoding": {
        "x": {"datum": 0.269, "type": "quantitative", "scale": {"domain": [0, 1], "range": [841, 1090], "nice": false, "zero": false}, "axis": null},
        "y": {"field": "series", "type": "nominal", "sort": null,
              "scale": {"type": "point", "domain": ["Rc=1e9", "Rc=1e8", "Rc=1e7"], "range": [83, 174], "padding": 0}, "axis": null},
        "fill": {"field": "series", "type": "nominal",
                 "scale": {"domain": ["Rc=1e9", "Rc=1e8", "Rc=1e7"], "range": ["#00ffff", "#ff0000", "#00ff00"]},
                 "legend": null}
      }
    },
    {
      "data": {"name": "legend"},
      "mark": {"type": "text", "align": "left", "baseline": "alphabetic", "fontSize": 25, "dy": 17},
      "encoding": {
        "x": {"datum": 0.518, "type": "quantitative", "scale": {"domain": [0, 1], "range": [841, 1090], "nice": false, "zero": false}, "axis": null},
        "y": {"field": "series", "type": "nominal", "sort": null,
              "scale": {"type": "point", "domain": ["Rc=1e9", "Rc=1e8", "Rc=1e7"], "range": [83, 174], "padding": 0}, "axis": null},
        "text": {"field": "base"}
      }
    },
    {
      "data": {"name": "legend"},
      "mark": {"type": "text", "align": "left", "baseline": "alphabetic", "fontSize": 19, "dy": 4},
      "encoding": {
        "x": {"datum": 0.815, "type": "quantitative", "scale": {"domain": [0, 1], "range": [841, 1090], "nice": false, "zero": false}, "axis": null},
        "y": {"field": "series", "type": "nominal", "sort": null,
              "scale": {"type": "point", "domain": ["Rc=1e9", "Rc=1e8", "Rc=1e7"], "range": [83, 174], "padding": 0}, "axis": null},
        "text": {"field": "exp"}
      }
    },
    {
      "data": {"values": [{}]},
      "mark": {"type": "text", "text": "x 10", "align": "left", "baseline": "alphabetic", "fontSize": 25, "dx": -1, "dy": -15},
      "encoding": {
        "x": {"datum": 0, "type": "quantitative", "scale": {"domain": [0, 5000000000], "range": [545, 1095], "nice": false, "zero": false}, "axis": null},
        "y": {"datum": -5000000000, "type": "quantitative", "scale": {"domain": [-5000000000, 0], "range": [50, 600], "nice": false, "zero": false}, "axis": null}
      }
    },
    {
      "data": {"values": [{}]},
      "mark": {"type": "text", "text": "9", "align": "left", "baseline": "alphabetic", "fontSize": 19, "dx": 50, "dy": -28},
      "encoding": {
        "x": {"datum": 0, "type": "quantitative", "scale": {"domain": [0, 5000000000], "range": [545, 1095], "nice": false, "zero": false}, "axis": null},
        "y": {"datum": -5000000000, "type": "quantitative", "scale": {"domain": [-5000000000, 0], "range": [50, 600], "nice": false, "zero": false}, "axis": null}
      }
    },
    {
      "data": {"values": [{}]},
      "mark": {"type": "text", "text": "x 10", "align": "left", "baseline": "alphabetic", "fontSize": 25, "dx": -55, "dy": 82},
      "encoding": {
        "x": {"datum": 5000000000, "type": "quantitative", "scale": {"domain": [0, 5000000000], "range": [545, 1095], "nice": false, "zero": false}, "axis": null},
        "y": {"datum": 0, "type": "quantitative", "scale": {"domain": [-5000000000, 0], "range": [50, 600], "nice": false, "zero": false}, "axis": null}
      }
    },
    {
      "data": {"values": [{}]},
      "mark": {"type": "text", "text": "9", "align": "left", "baseline": "alphabetic", "fontSize": 19, "dx": -4, "dy": 70},
      "encoding": {
        "x": {"datum": 5000000000, "type": "quantitative", "scale": {"domain": [0, 5000000000], "range": [545, 1095], "nice": false, "zero": false}, "axis": null},
        "y": {"datum": 0, "type": "quantitative", "scale": {"domain": [-5000000000, 0], "range": [50, 600], "nice": false, "zero": false}, "axis": null}
      }
    },
    {
      "data": {"values": [{}]},
      "mark": {"type": "text", "text": "x 10", "align": "left", "baseline": "alphabetic", "fontSize": 21, "dx": 2, "dy": -13},
      "encoding": {
        "x": {"datum": 0, "type": "quantitative", "scale": {"domain": [0, 50000000], "range": [587, 819], "nice": false, "zero": false}, "axis": null},
        "y": {"datum": -50000000, "type": "quantitative", "scale": {"domain": [-50000000, 0], "range": [88, 319], "nice": false, "zero": false}, "axis": null}
      }
    },
    {
      "data": {"values": [{}]},
      "mark": {"type": "text", "text": "7", "align": "left", "baseline": "alphabetic", "fontSize": 16, "dx": 43, "dy": -24},
      "encoding": {
        "x": {"datum": 0, "type": "quantitative", "scale": {"domain": [0, 50000000], "range": [587, 819], "nice": false, "zero": false}, "axis": null},
        "y": {"datum": -50000000, "type": "quantitative", "scale": {"domain": [-50000000, 0], "range": [88, 319], "nice": false, "zero": false}, "axis": null}
      }
    },
    {
      "data": {"values": [{}]},
      "mark": {"type": "text", "text": "x 10", "align": "left", "baseline": "alphabetic", "fontSize": 22, "dx": -49, "dy": 72},
      "encoding": {
        "x": {"datum": 50000000, "type": "quantitative", "scale": {"domain": [0, 50000000], "range": [587, 819], "nice": false, "zero": false}, "axis": null},
        "y": {"datum": 0, "type": "quantitative", "scale": {"domain": [-50000000, 0], "range": [88, 319], "nice": false, "zero": false}, "axis": null}
      }
    },
    {
      "data": {"values": [{}]},
      "mark": {"type": "text", "text": "7", "align": "left", "baseline": "alphabetic", "fontSize": 16, "dx": -6, "dy": 54},
      "encoding": {
        "x": {"datum": 50000000, "type": "quantitative", "scale": {"domain": [0, 50000000], "range": [587, 819], "nice": false, "zero": false}, "axis": null},
        "y": {"datum": 0, "type": "quantitative", "scale": {"domain": [-50000000, 0], "range": [88, 319], "nice": false, "zero": false}, "axis": null}
      }
    }
  ],
  "resolve": {
    "scale": {"x": "independent", "y": "independent"},
    "axis": {"x": "independent", "y": "independent"}
  }
}
